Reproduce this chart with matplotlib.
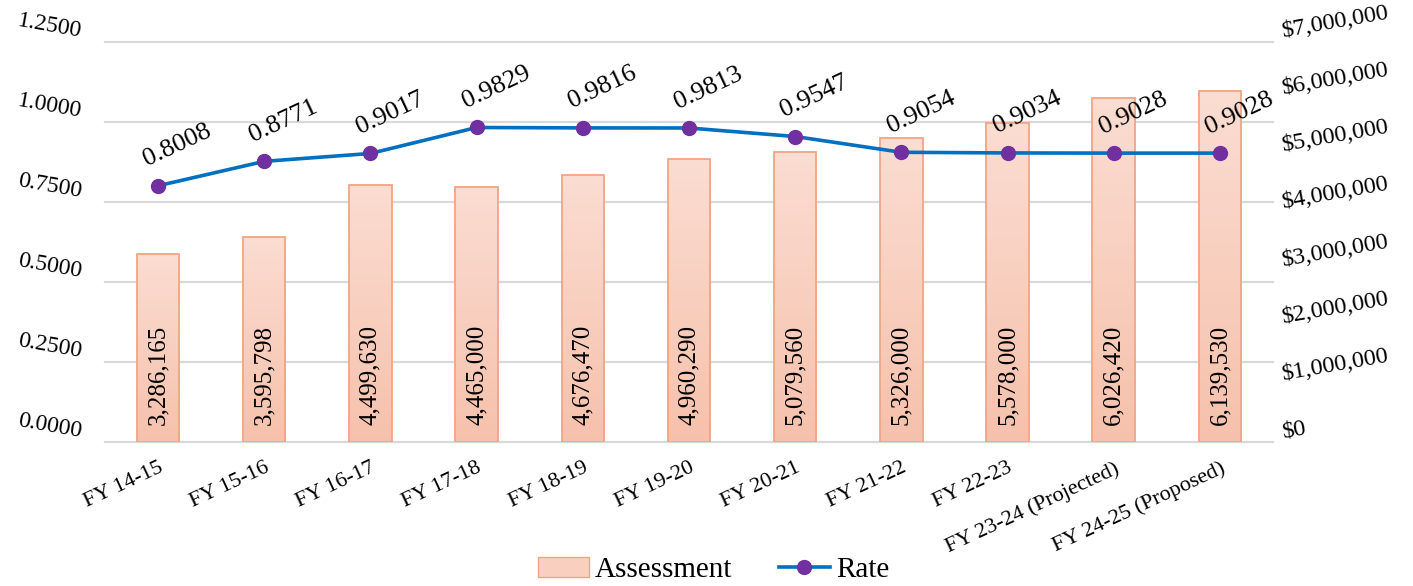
import numpy as np
import matplotlib
matplotlib.use("Agg")
import matplotlib.pyplot as plt
from matplotlib.colors import LinearSegmentedColormap
from matplotlib.patches import Patch
from matplotlib.lines import Line2D
import matplotlib.transforms as mtransforms

plt.rcParams["font.family"] = ["Liberation Serif", "DejaVu Serif"]

categories = ["FY 14-15", "FY 15-16", "FY 16-17", "FY 17-18", "FY 18-19",
              "FY 19-20", "FY 20-21", "FY 21-22", "FY 22-23",
              "FY 23-24 (Projected)", "FY 24-25 (Proposed)"]
assessment = [3286165, 3595798, 4499630, 4465000, 4676470, 4960290,
              5079560, 5326000, 5578000, 6026420, 6139530]
rate = [0.8008, 0.8771, 0.9017, 0.9829, 0.9816, 0.9813, 0.9547,
        0.9054, 0.9034, 0.9028, 0.9028]
rate_ticks = [0.0, 0.25, 0.5, 0.75, 1.0, 1.25]
money_ticks = [0, 1000000, 2000000, 3000000, 4000000, 5000000, 6000000, 7000000]

BAR_EDGE = "#F1A585"
LINE_BLUE = "#0070C0"
MARKER_PURPLE = "#7030A0"
GRID = "#D9D9D9"
bar_cmap = LinearSegmentedColormap.from_list("peach", ["#FBDDD2", "#F6C1AC"])

fig = plt.figure(figsize=(14.13, 5.86), dpi=100)
ax = fig.add_axes([0.0743, 0.2457, 0.8266, 0.6826])   # bars (dollar scale, right side)
ax2 = ax.twinx()                                       # rate line (left side)

x = np.arange(len(categories))

# horizontal grid follows the rate axis but sits behind the bars
blend = mtransforms.blended_transform_factory(ax.transAxes, ax2.transData)
for t in rate_ticks:
    ax.plot([0, 1], [t, t], transform=blend, color=GRID, lw=1.6, zorder=0.5,
            clip_on=False)

bars = ax.bar(x, assessment, width=0.4, color="none", edgecolor=BAR_EDGE,
              linewidth=1.3, zorder=2)
grad = np.linspace(0, 1, 256).reshape(-1, 1)
for b in bars:
    x0, w, h = b.get_x(), b.get_width(), b.get_height()
    im = ax.imshow(grad, cmap=bar_cmap, aspect="auto", origin="upper",
                   extent=[x0, x0 + w, 0, h], zorder=1.5)
    im.set_clip_path(b)
ax.set_xlim(-0.5, len(categories) - 0.5)
ax.set_ylim(0, 7000000)
ax2.set_ylim(0, 1.25)

for xi, v in zip(x, assessment):
    ax.annotate(f"{v:,}", (xi, 0), xytext=(0, 12), textcoords="offset points",
                rotation=90, ha="center", va="bottom", fontsize=18, zorder=3)

ax2.plot(x, rate, color=LINE_BLUE, lw=2.6, marker="o", markersize=10,
         markerfacecolor=MARKER_PURPLE, markeredgecolor=MARKER_PURPLE, zorder=4)
for xi, r in zip(x, rate):
    ax2.annotate(f"{r:.4f}", (xi, r), xytext=(14, 29), textcoords="offset points",
                 rotation=25, ha="center", va="center", fontsize=19,
                 rotation_mode="anchor")

# axis sides: dollars on the right, rate on the left
ax.yaxis.tick_right()
ax2.yaxis.tick_left()
ax.set_yticks(money_ticks)
ax.set_yticklabels(["$0" if m == 0 else f"${m:,}" for m in money_ticks],
                   rotation=10, fontsize=17.5)
ax2.set_yticks(rate_ticks)
ax2.set_yticklabels([f"{t:.4f}" for t in rate_ticks], rotation=-10, fontsize=17)
for lab in ax.get_yticklabels():
    lab.set_rotation_mode("anchor")
    lab.set_va("bottom")
for lab in ax2.get_yticklabels():
    lab.set_rotation_mode("anchor")
    lab.set_va("bottom")

ax.set_xticks(x)
ax.set_xticklabels(categories, rotation=25, ha="right", rotation_mode="anchor",
                   fontsize=16)

for a in (ax, ax2):
    for s in a.spines.values():
        s.set_visible(False)
    a.tick_params(length=0)
ax.tick_params(axis="y", pad=8)
ax2.tick_params(axis="y", pad=18)
ax.tick_params(axis="x", pad=12)

handles = [Patch(facecolor="#F9D0C0", edgecolor=BAR_EDGE, label="Assessment"),
           Line2D([0], [0], color=LINE_BLUE, lw=2.6, marker="o", markersize=10,
                  markerfacecolor=MARKER_PURPLE, markeredgecolor=MARKER_PURPLE,
                  label="Rate")]
fig.legend(handles=handles, loc="lower center", bbox_to_anchor=(0.505, -0.04),
           ncol=2, frameon=False, fontsize=21, handlelength=1.75,
           columnspacing=1.6, handletextpad=0.2)

fig.savefig("out.png", dpi=100)
